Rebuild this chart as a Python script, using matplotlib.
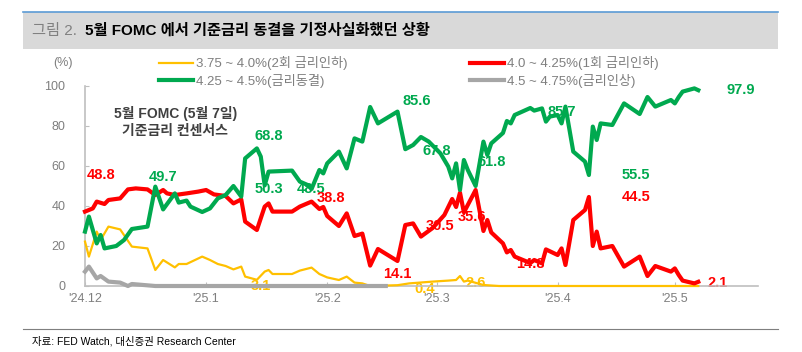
import numpy as np
import pandas as pd
import matplotlib
matplotlib.use("Agg")
import matplotlib.pyplot as plt
from matplotlib.lines import Line2D
from matplotlib.patches import Rectangle

plt.rcParams['font.family'] = ['Liberation Sans', 'Noto Sans CJK KR', 'DejaVu Sans']

# === 데이터 ===
fechas_rojo = ["2024-12-01", "2024-12-03", "2024-12-04", "2024-12-06", "2024-12-07", "2024-12-10",
               "2024-12-12", "2024-12-14", "2024-12-17", "2024-12-19", "2024-12-21", "2024-12-22",
               "2024-12-24", "2024-12-27", "2024-12-30", "2025-01-01", "2025-01-03", "2025-01-06",
               "2025-01-08", "2025-01-10", "2025-01-11", "2025-01-14", "2025-01-16", "2025-01-17",
               "2025-01-18", "2025-01-23", "2025-01-25", "2025-01-28", "2025-01-30", "2025-01-31",
               "2025-02-01", "2025-02-04", "2025-02-06", "2025-02-08", "2025-02-10", "2025-02-12",
               "2025-02-14", "2025-02-19", "2025-02-21", "2025-02-23", "2025-02-25", "2025-02-28",
               "2025-03-03", "2025-03-05", "2025-03-06", "2025-03-07", "2025-03-08", "2025-03-11",
               "2025-03-13", "2025-03-14", "2025-03-15", "2025-03-18", "2025-03-19", "2025-03-20",
               "2025-03-21", "2025-03-25", "2025-03-26", "2025-03-28", "2025-03-29", "2025-04-01",
               "2025-04-02", "2025-04-03", "2025-04-05", "2025-04-08", "2025-04-09", "2025-04-10",
               "2025-04-11", "2025-04-12", "2025-04-15", "2025-04-18", "2025-04-22", "2025-04-24",
               "2025-04-26", "2025-04-30", "2025-05-01", "2025-05-02", "2025-05-03", "2025-05-06",
               "2025-05-07"]
rojo = [37.2, 38.8, 42.2, 41, 43, 43.8, 48.3, 48.8, 48.3, 45.5, 48, 46.3, 45.5, 46.3, 47.2,
        48, 45.8, 45, 41.3, 43.3, 32.2, 28, 39.7, 41.3, 37.2, 37.2, 39.7, 42.2, 38.5, 39.5,
        35, 30, 36.3, 25, 26.2, 10.2, 18.5, 12.5, 30.5, 31.3, 24.7, 29, 35.5, 43.5, 39.5,
        46.7, 36.8, 48, 27.5, 33, 26.8, 21.3, 16.8, 18, 14.7, 11.5, 13, 11.3, 18.3, 15.5,
        18.8, 10.5, 33, 38, 44.5, 20, 27.2, 18.8, 20, 9.7, 14.7, 5, 10, 7.2, 8.8, 5.5, 2.7,
        1.3, 2.1]

fechas_verde = ["2024-12-01", "2024-12-02", "2024-12-04", "2024-12-05", "2024-12-06", "2024-12-09",
                "2024-12-11", "2024-12-13", "2024-12-17", "2024-12-19", "2024-12-21", "2024-12-24",
                "2024-12-25", "2024-12-27", "2024-12-28", "2024-12-31", "2025-01-02", "2025-01-04",
                "2025-01-06", "2025-01-08", "2025-01-10", "2025-01-11", "2025-01-14", "2025-01-15",
                "2025-01-16", "2025-01-17", "2025-01-23", "2025-01-25", "2025-01-27", "2025-01-28",
                "2025-01-30", "2025-01-31", "2025-02-01", "2025-02-04", "2025-02-06", "2025-02-08",
                "2025-02-10", "2025-02-12", "2025-02-14", "2025-02-19", "2025-02-21", "2025-02-23",
                "2025-02-25", "2025-02-27", "2025-03-02", "2025-03-04", "2025-03-05", "2025-03-06",
                "2025-03-07", "2025-03-08", "2025-03-09", "2025-03-11", "2025-03-13", "2025-03-14",
                "2025-03-15", "2025-03-18", "2025-03-19", "2025-03-20", "2025-03-21", "2025-03-25",
                "2025-03-26", "2025-03-28", "2025-03-29", "2025-03-30", "2025-04-01", "2025-04-02",
                "2025-04-03", "2025-04-05", "2025-04-08", "2025-04-09", "2025-04-10", "2025-04-11",
                "2025-04-12", "2025-04-15", "2025-04-18", "2025-04-22", "2025-04-24", "2025-04-26",
                "2025-04-30", "2025-05-01", "2025-05-02", "2025-05-03", "2025-05-06", "2025-05-07"]
verde = [27.2, 34.7, 21.3, 25.5, 18.8, 20, 23, 28.5, 29.7, 49.7, 38.3, 46.3, 41.7, 42.7, 39.7,
         37, 38.8, 43.8, 45.5, 50, 44.7, 63.8, 68.8, 64.7, 50.3, 57.2, 57.7, 52.2, 50.5, 48.5,
         58, 56.3, 61.3, 67.2, 58.8, 73.8, 72.2, 89.5, 81.3, 87.2, 68.4, 70.5, 74.5, 72.2,
         66.3, 59.7, 53.8, 61.3, 48, 63, 58, 50, 72.2, 65.5, 71.3, 76.5, 82.5, 81.3, 85.5, 89,
         87.7, 88.8, 82.2, 84.7, 85.5, 81.3, 89.7, 67.2, 62.2, 55.5, 79.7, 73, 81.3, 80.5,
         91.3, 86, 94.5, 89.7, 93, 91.3, 94.5, 97.2, 98.8, 97.9]

fechas_amarillo = ["2024-12-01", "2024-12-02", "2024-12-04", "2024-12-05", "2024-12-07", "2024-12-10",
                   "2024-12-13", "2024-12-17", "2024-12-19", "2024-12-21", "2024-12-24", "2024-12-25",
                   "2024-12-27", "2024-12-31", "2025-01-02", "2025-01-04", "2025-01-06", "2025-01-08",
                   "2025-01-10", "2025-01-11", "2025-01-14", "2025-01-16", "2025-01-17", "2025-01-18",
                   "2025-01-23", "2025-01-25", "2025-01-28", "2025-01-30", "2025-02-01", "2025-02-04",
                   "2025-02-06", "2025-02-08", "2025-02-10", "2025-02-12", "2025-02-19", "2025-02-22",
                   "2025-02-28", "2025-03-04", "2025-03-06", "2025-03-07", "2025-03-08", "2025-03-09",
                   "2025-03-13", "2025-03-17", "2025-05-07"]
amarillo = [22.2, 14.7, 27.2, 23, 29.7, 28.3, 19.7, 18.8, 8, 13, 9.3, 11, 11, 14.7, 13, 11, 10,
            8.3, 9.7, 4.7, 3.1, 7.2, 8, 6, 6, 7.7, 9.2, 6, 4.3, 3, 4.7, 1.7, 1.3, 0, 0.4, 1.3,
            2.2, 2.7, 3, 5, 2.2, 2.7, 0.5, 0, 0]

fechas_gris = ["2024-12-01", "2024-12-02", "2024-12-04", "2024-12-05", "2024-12-07", "2024-12-10",
               "2024-12-12", "2024-12-13", "2024-12-16", "2024-12-19", "2025-02-16"]
gris = [7.2, 9.7, 3.8, 5, 2.2, 1.7, 0, 1, 0.5, 0, 0]

etiquetas_leyenda = ["3.75 ~ 4.0%(2회 금리인하)", "4.0 ~ 4.25%(1회 금리인하)",
                     "4.25 ~ 4.5%(금리동결)", "4.5 ~ 4.75%(금리인상)"]

meses = ["2024-12-01", "2025-01-01", "2025-02-01", "2025-03-01", "2025-04-01", "2025-05-01"]
meses_txt = ["'24.12", "'25.1", "'25.2", "'25.3", "'25.4", "'25.5"]

# etiquetas de datos: texto, fecha, valor, serie
rotulos = [("48.8", "2024-12-05", 55.5, "r"), ("49.7", "2024-12-21", 54.5, "g"),
           ("68.8", "2025-01-17", 75, "g"), ("50.3", "2025-01-17", 48.5, "g"),
           ("48.5", "2025-01-28", 48.5, "g"), ("38.8", "2025-02-02", 44, "r"),
           ("85.6", "2025-02-24", 92.5, "g"), ("67.8", "2025-03-01", 67.5, "g"),
           ("61.8", "2025-03-15", 62, "g"), ("14.1", "2025-02-19", 6, "r"),
           ("0.4", "2025-02-26", -1.5, "y"), ("2.6", "2025-03-11", 1.5, "y"),
           ("3.1", "2025-01-15", 0, "y"), ("30.5", "2025-03-02", 30, "r"),
           ("35.6", "2025-03-10", 34.5, "r"), ("14.8", "2025-03-25", 11, "r"),
           ("85.7", "2025-04-02", 87, "g"), ("55.5", "2025-04-21", 55.5, "g"),
           ("44.5", "2025-04-21", 44.5, "r"), ("97.9", "2025-05-18", 98, "g"),
           ("2.1", "2025-05-12", 1.5, "r")]

colores = {"y": "#FFC000", "r": "#FF0000", "g": "#00A94F", "k": "#A6A6A6"}
gris_txt = "#7F7F7F"

fig = plt.figure(figsize=(8.03, 3.52), dpi=100)
ax = fig.add_axes([85 / 803, 1 - 286 / 352, (758 - 85) / 803, 200 / 352])

l_am, = ax.plot(pd.to_datetime(fechas_amarillo), amarillo, color=colores["y"], lw=1.6, zorder=3,
                clip_on=False)
l_ro, = ax.plot(pd.to_datetime(fechas_rojo), rojo, color=colores["r"], lw=3, zorder=4,
                solid_joinstyle='round', clip_on=False)
l_ve, = ax.plot(pd.to_datetime(fechas_verde), verde, color=colores["g"], lw=3, zorder=5,
                solid_joinstyle='round', clip_on=False)
l_gr, = ax.plot(pd.to_datetime(fechas_gris), gris, color=colores["k"], lw=3, zorder=6,
                solid_joinstyle='round', clip_on=False)

for txt, f, v, s in rotulos:
    ax.text(pd.Timestamp(f), v, txt, color=colores[s], fontsize=10.5, fontweight='bold',
            ha='center', va='center', zorder=2)

ax.set_xlim(pd.Timestamp("2024-12-01"), pd.Timestamp("2025-05-22 07:00"))
ax.set_ylim(0, 100)
ax.set_yticks(range(0, 101, 20))
ax.set_xticks(pd.to_datetime(meses))
ax.set_xticklabels(meses_txt)

for lado in ['top', 'right']:
    ax.spines[lado].set_visible(False)
for lado in ['left', 'bottom']:
    ax.spines[lado].set_color("#BFBFBF")
    ax.spines[lado].set_linewidth(1.2)
ax.tick_params(direction='in', length=3, color="#BFBFBF", labelcolor=gris_txt, labelsize=9)
ax.tick_params(axis='y', pad=14)
ax.tick_params(axis='x', pad=5)

ax.text(-0.018, 1.115, "(%)", transform=ax.transAxes, color=gris_txt, fontsize=9,
        ha='right', va='center')

ax.text(0.134, 0.82, "5월 FOMC (5월 7일)\n기준금리 컨센서스", transform=ax.transAxes,
        color="#404040", fontsize=10, fontweight='bold', ha='center', va='center',
        linespacing=1.3)

# leyenda
h = [l_am, l_ve, l_ro, l_gr]
lab = [etiquetas_leyenda[0], etiquetas_leyenda[2], etiquetas_leyenda[1], etiquetas_leyenda[3]]
leg = fig.legend(h, lab, ncol=2, loc='center left', bbox_to_anchor=(152 / 803, 1 - 72 / 352),
                 frameon=False, fontsize=9.5, handlelength=2.6, handletextpad=0.2,
                 columnspacing=9.3, labelspacing=0.25, borderpad=0)
for t in leg.get_texts():
    t.set_color(gris_txt)

# encabezado
fig.add_artist(Rectangle((23 / 803, 1 - 49 / 352), 755 / 803, 37 / 352,
                         transform=fig.transFigure, facecolor="#D9D9D9", edgecolor='none'))
fig.add_artist(Line2D([23 / 803, 778 / 803], [1 - 12 / 352, 1 - 12 / 352],
                      transform=fig.transFigure, color="#5B9BD5", lw=1.2))
fig.text(32 / 803, 1 - 31 / 352, "그림 2.", color="#808080", fontsize=11, va='center')
fig.text(85 / 803, 1 - 31 / 352, "5월 FOMC 에서 기준금리 동결을 기정사실화했던 상황",
         color="#000000", fontsize=11, fontweight='bold', va='center')

# pie
fig.add_artist(Line2D([23 / 803, 778 / 803], [1 - 329 / 352, 1 - 329 / 352],
                      transform=fig.transFigure, color="#7F7F7F", lw=0.8))
fig.text(32 / 803, 1 - 341 / 352, "자료: FED Watch, 대신증권 Research Center",
         color="#000000", fontsize=7.5, va='center')

fig.savefig("out.png", dpi=100)
